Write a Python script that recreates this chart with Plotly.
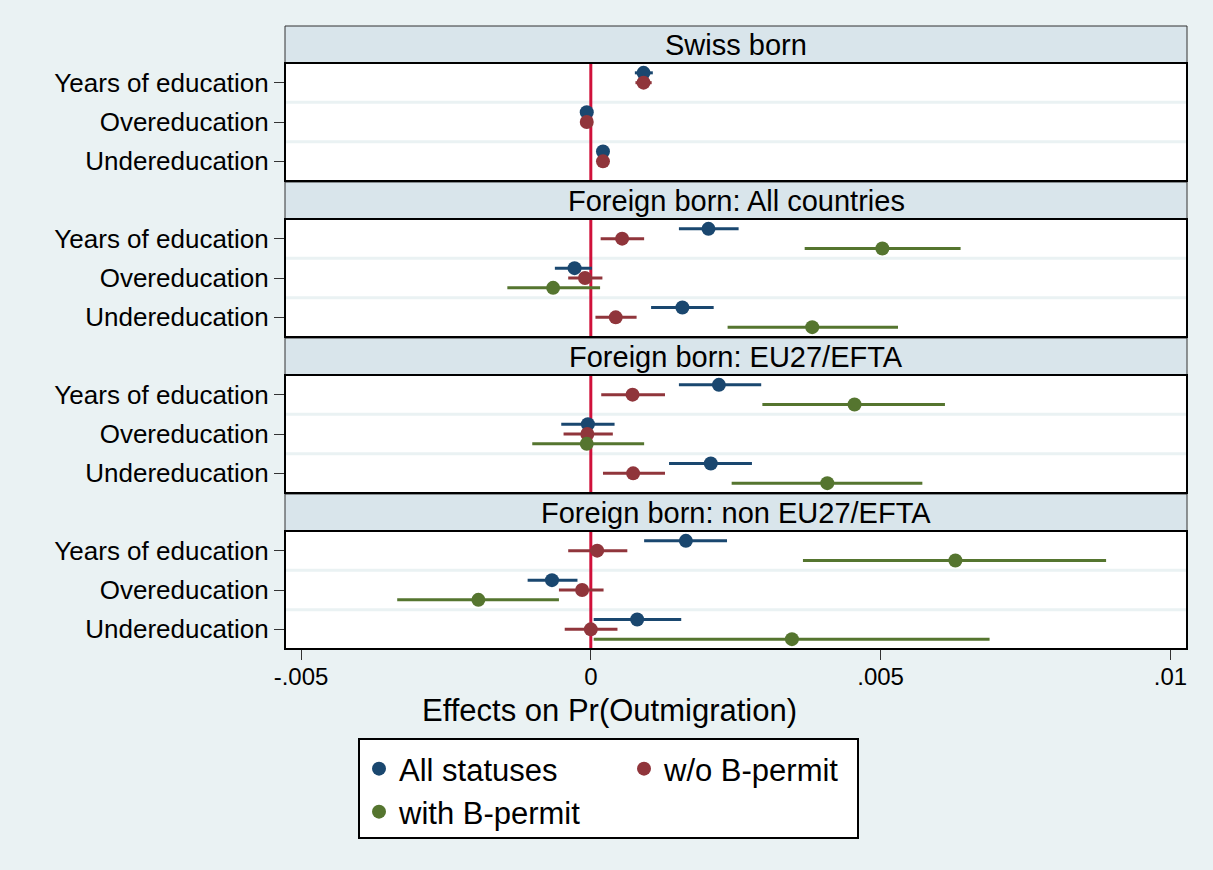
import plotly.graph_objects as go

# ---------------- data ----------------
categories = ["Years of education", "Overeducation", "Undereducation"]
panels = ["Swiss born", "Foreign born: All countries", "Foreign born: EU27/EFTA",
          "Foreign born: non EU27/EFTA"]
series_names = ["All statuses", "w/o B-permit", "with B-permit"]
x_tickvals = [-0.005, 0, 0.005, 0.01]
x_ticktext = ["-.005", "0", ".005", ".01"]

# All statuses
all_est = [[0.00091, -0.00007, 0.00021], [0.00203, -0.00028, 0.00158],
           [0.00221, -0.00005, 0.00207], [0.00164, -0.00067, 0.00080]]
all_lo = [[0.00076, -0.00012, 0.00011], [0.00152, -0.00062, 0.00104],
          [0.00152, -0.00051, 0.00135], [0.00092, -0.00109, 0.00005]]
all_hi = [[0.00107, -0.00002, 0.00031], [0.00255, 0.00002, 0.00212],
          [0.00294, 0.00041, 0.00278], [0.00235, -0.00023, 0.00156]]
# w/o B-permit
wo_est = [[0.00091, -0.00007, 0.00021], [0.00054, -0.00010, 0.00043],
          [0.00072, -0.00006, 0.00073], [0.00011, -0.00015, 0.00000]]
wo_lo = [[0.00077, -0.00011, 0.00013], [0.00017, -0.00039, 0.00008],
         [0.00018, -0.00047, 0.00021], [-0.00039, -0.00055, -0.00045]]
wo_hi = [[0.00105, -0.00003, 0.00029], [0.00092, 0.00020, 0.00079],
         [0.00128, 0.00038, 0.00128], [0.00063, 0.00022, 0.00046]]
# with B-permit (not estimated for Swiss born)
with_est = [None, [0.00503, -0.00065, 0.00382],
            [0.00455, -0.00007, 0.00408], [0.00629, -0.00194, 0.00347]]
with_lo = [None, [0.00369, -0.00144, 0.00236],
           [0.00296, -0.00101, 0.00243], [0.00366, -0.00334, 0.00005]]
with_hi = [None, [0.00638, 0.00016, 0.00530],
           [0.00611, 0.00092, 0.00572], [0.00889, -0.00055, 0.00688]]

# ---------------- style ----------------
colors = ["#1a476f", "#90353b", "#55752f"]
offsets = [0.25, 0.0, -0.25]
bg = "#eaf2f3"
strip = "#d9e5eb"
zero_col = "#d0103a"
FONT = "Liberation Sans, Arial, sans-serif"

W, H = 1213, 870
ML, MR, MT, MB = 285, 26, 26, 220
PH = H - MT - MB  # 624
PW = W - ML - MR
PERIOD = 156
HDR = 37
BODY_END = 155


def py2paper(py):
    return 1 - (py - MT) / PH


def px2paper(px):
    return (px - ML) / PW


fig = go.Figure()

data = [(all_est, all_lo, all_hi), (wo_est, wo_lo, wo_hi), (with_est, with_lo, with_hi)]
ypos = [3, 2, 1]
shown = [False, False, False]

for p in range(4):
    yref = "y" if p == 0 else f"y{p + 1}"
    for s, (est, lo, hi) in enumerate(data):
        if est[p] is None:
            continue
        xs = est[p]
        plus = [h - e for h, e in zip(hi[p], xs)]
        minus = [e - l for e, l in zip(xs, lo[p])]
        fig.add_trace(go.Scatter(
            x=xs, y=[v + offsets[s] for v in ypos],
            mode="markers", name=series_names[s],
            marker=dict(color=colors[s], size=14, symbol="circle"),
            error_x=dict(type="data", array=plus, arrayminus=minus,
                         color=colors[s], thickness=3, width=0),
            xaxis="x", yaxis=yref,
            showlegend=not shown[s],
            legend="legend2" if s == 2 else "legend",
        ))
        shown[s] = True

layout = dict(
    width=W, height=H,
    paper_bgcolor=bg, plot_bgcolor="white",
    margin=dict(l=ML, r=MR, t=MT, b=MB, autoexpand=False),
    font=dict(family=FONT, color="black"),
    xaxis=dict(domain=[0, 1], anchor="y4", range=[-0.005276, 0.010286],
               tickvals=x_tickvals, ticktext=x_ticktext,
               ticks="outside", ticklen=10, tickcolor="#333", tickwidth=1,
               ticklabelstandoff=-4,
               showgrid=False, zeroline=False, showline=False,
               tickfont=dict(size=24), automargin=False),
)
shapes = []
annotations = []
for p in range(4):
    key = "yaxis" if p == 0 else f"yaxis{p + 1}"
    top = PERIOD * p
    layout[key] = dict(
        domain=[1 - (top + BODY_END) / PH, 1 - (top + HDR) / PH],
        anchor="x", range=[0.5, 3.5],
        tickvals=ypos, ticktext=categories,
        ticks="outside", ticklen=10, tickcolor="#333", tickwidth=1,
        ticklabelstandoff=0,
        tickfont=dict(size=26),
        showgrid=False, zeroline=False, showline=False, automargin=False,
    )
    yname = "y" if p == 0 else f"y{p + 1}"
    for yb in [1.5, 2.5]:
        shapes.append(dict(type="line", xref="paper", yref=yname, x0=0, x1=1, y0=yb, y1=yb,
                           line=dict(color=bg, width=3), layer="below"))
    shapes.append(dict(type="line", xref="x", yref=f"{yname} domain", x0=0, x1=0, y0=0, y1=1,
                       line=dict(color=zero_col, width=3), layer="below"))
    shapes.append(dict(type="rect", xref="paper", yref=f"{yname} domain", x0=0, x1=1, y0=0, y1=1,
                       line=dict(color="black", width=2), fillcolor="rgba(0,0,0,0)", layer="above"))
    shapes.append(dict(type="rect", xref="paper", yref="paper", x0=0, x1=1,
                       y0=1 - (top + HDR) / PH, y1=1 - top / PH,
                       line=dict(color="#333", width=1), fillcolor=strip, layer="below"))
    annotations.append(dict(text=panels[p], xref="paper", yref="paper", x=0.5,
                            y=1 - (top + HDR / 2) / PH, xanchor="center", yanchor="middle",
                            showarrow=False, font=dict(size=29)))

# x-axis title, centred on the whole graph as in the original
annotations.append(dict(text="Effects on Pr(Outmigration)", xref="paper", yref="paper",
                        x=px2paper(W / 2 + 3), y=py2paper(710), xanchor="center", yanchor="middle",
                        showarrow=False, font=dict(size=31)))

# legend box
shapes.append(dict(type="rect", xref="paper", yref="paper",
                   x0=px2paper(359), x1=px2paper(858), y0=py2paper(838), y1=py2paper(739),
                   line=dict(color="black", width=2), fillcolor="white"))

layout["shapes"] = shapes
layout["annotations"] = annotations
layout["legend"] = dict(orientation="h", x=px2paper(359), y=py2paper(742), xanchor="left",
                        yanchor="top", bgcolor="rgba(0,0,0,0)", borderwidth=0,
                        font=dict(size=31), entrywidth=220, entrywidthmode="pixels")
layout["legend2"] = dict(orientation="h", x=px2paper(359), y=py2paper(785), xanchor="left",
                         yanchor="top", bgcolor="rgba(0,0,0,0)", borderwidth=0,
                         font=dict(size=31))

fig.update_layout(**layout)
fig.write_html("out.html", config={"displayModeBar": False},
               post_script="document.body.style.margin='0';document.body.style.background='%s';" % bg)
